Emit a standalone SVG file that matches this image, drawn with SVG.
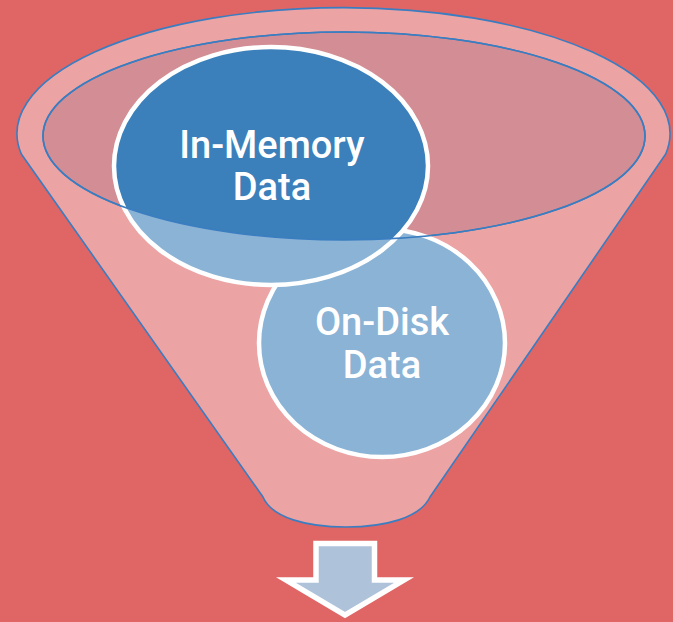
<svg xmlns="http://www.w3.org/2000/svg" width="673" height="622" viewBox="0 0 673 622">
<style>
.lbl{font-family:Roboto,"Open Sans","DejaVu Sans",sans-serif;font-weight:500;font-size:38px;fill:#ffffff;text-anchor:middle}
.edge{stroke:#3A7DC0;stroke-width:1.6}
.ring{stroke:#ffffff;stroke-width:4.5}
</style>
<defs>
<clipPath id="innerClip"><ellipse cx="344" cy="136" rx="301" ry="104"/></clipPath>
</defs>
<rect x="0" y="0" width="673" height="622" fill="#E06565"/>
<g id="funnel">
<path class="edge" fill="#EBA3A4" d="M21.3,154 A326.5,126 0 1 1 665.7,154 L430,497 C420,518 385,527 346,527 C307,527 272,518 263,497 Z"/>
<ellipse class="edge" cx="344" cy="136" rx="301" ry="104" fill="#D38D94"/>
</g>
<g id="on-disk">
<ellipse class="ring" cx="382" cy="343" rx="123" ry="114" fill="#8AB3D5"/>
<text class="lbl" x="382" y="335">On-Disk</text>
<text class="lbl" x="382" y="378">Data</text>
</g>
<g id="in-memory">
<ellipse cx="271" cy="166" rx="157" ry="119" fill="#8AB3D5"/>
<ellipse cx="271" cy="166" rx="157" ry="119" fill="#3B80BA" clip-path="url(#innerClip)"/>
<ellipse class="ring" cx="271" cy="166" rx="157" ry="119" fill="none"/>
<text class="lbl" x="272" y="158">In-Memory</text>
<text class="lbl" x="272" y="200">Data</text>
</g>
<g id="funnel-rim">
<ellipse class="edge" cx="344" cy="136" rx="301" ry="104" fill="none"/>
</g>
<g id="connectors">
<path d="M316,543.5 H374.5 V580 H404 L345,615 L286,580 H316 Z" fill="#AEC2DA" stroke="#ffffff" stroke-width="5.5" stroke-linejoin="miter"/>
</g>
</svg>
